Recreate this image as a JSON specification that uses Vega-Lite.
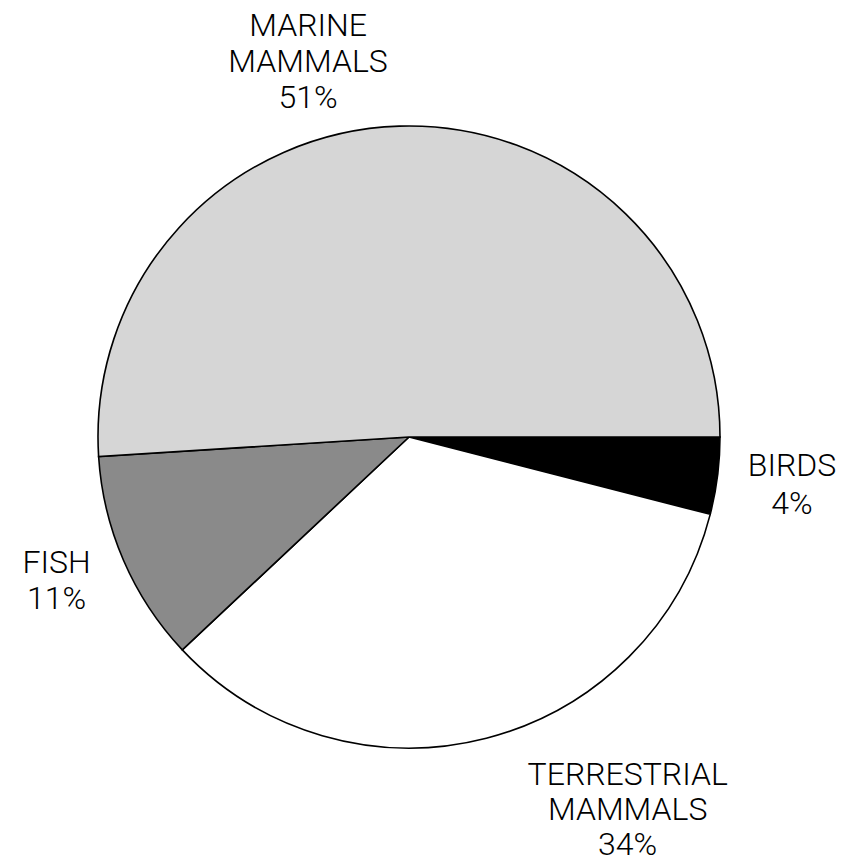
{
  "$schema": "https://vega.github.io/schema/vega-lite/v6.json",
  "autosize": "none",
  "width": 818,
  "height": 854,
  "padding": {"left": 0, "top": 10, "right": 36, "bottom": 2},
  "background": "white",
  "view": {"stroke": null},
  "config": {
    "text": {"font": "Roboto", "fontWeight": 300, "fontSize": 32, "lineHeight": 36, "lineBreak": "\n", "align": "center", "baseline": "middle", "color": "black"}
  },
  "data": {
    "values": [
      {"category": "BIRDS", "label": "BIRDS\n4%", "percent": 4, "order": 1},
      {"category": "TERRESTRIAL MAMMALS", "label": "TERRESTRIAL\nMAMMALS\n34%", "percent": 34, "order": 2},
      {"category": "FISH", "label": "FISH\n11%", "percent": 11, "order": 3},
      {"category": "MARINE MAMMALS", "label": "MARINE\nMAMMALS\n51%", "percent": 51, "order": 4}
    ]
  },
  "encoding": {
    "theta": {"field": "percent", "type": "quantitative", "stack": true, "scale": {"range": [1.5707963, 7.8539816]}},
    "order": {"field": "order", "type": "quantitative"}
  },
  "layer": [
    {
      "mark": {"type": "arc", "outerRadius": 311, "stroke": "black", "strokeWidth": 1.6, "strokeJoin": "miter"},
      "encoding": {
        "color": {
          "field": "category", "type": "nominal", "legend": null,
          "scale": {"domain": ["BIRDS", "TERRESTRIAL MAMMALS", "FISH", "MARINE MAMMALS"], "range": ["#000000", "#ffffff", "#8a8a8a", "#d6d6d6"]}
        }
      }
    },
    {
      "mark": {"type": "text", "radius": 384, "dx": 2, "dy": -19, "lineHeight": 38},
      "encoding": {"text": {"condition": {"test": "datum.category === 'BIRDS'", "field": "label"}, "value": ""}}
    },
    {
      "mark": {"type": "text", "radius": 352.6, "dx": 131, "dy": -4, "lineHeight": 35},
      "encoding": {"text": {"condition": {"test": "datum.category === 'TERRESTRIAL MAMMALS'", "field": "label"}, "value": ""}}
    },
    {
      "mark": {"type": "text", "radius": 384, "dx": 0, "dy": -27, "lineHeight": 36},
      "encoding": {"text": {"condition": {"test": "datum.category === 'FISH'", "field": "label"}, "value": ""}}
    },
    {
      "mark": {"type": "text", "radius": 411.7, "dx": -88, "dy": 0, "lineHeight": 36},
      "encoding": {"text": {"condition": {"test": "datum.category === 'MARINE MAMMALS'", "field": "label"}, "value": ""}}
    }
  ]
}
